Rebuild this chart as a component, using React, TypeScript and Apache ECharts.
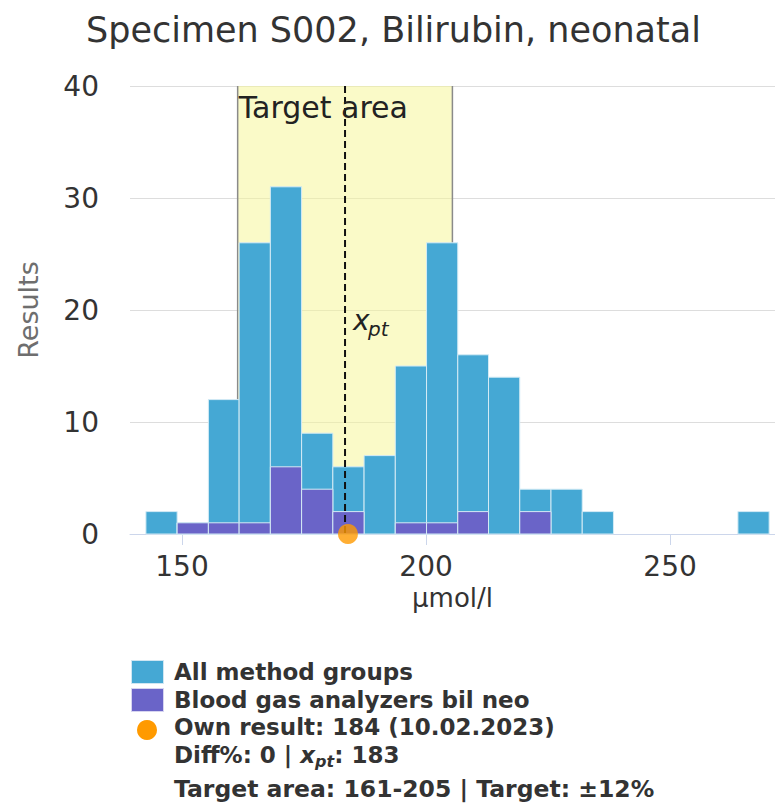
import React, { useEffect, useRef } from "react";
import * as echarts from "echarts";

// ---- data ----
const titleText = "Specimen S002, Bilirubin, neonatal";
const binEdges = [142.6, 149.0, 155.4, 161.7, 168.1, 174.5, 180.9, 187.3, 193.7, 200.1, 206.5, 212.8, 219.2, 225.6, 232.0, 238.4, 244.8, 251.2, 257.5, 263.9, 270.3];
const allMethodCounts = [2, 1, 12, 26, 31, 9, 6, 7, 15, 26, 16, 14, 4, 4, 2, 0, 0, 0, 0, 2];
const bloodGasCounts = [0, 1, 1, 1, 6, 4, 2, 0, 1, 1, 2, 0, 2, 0, 0, 0, 0, 0, 0, 0];
const xTickValues = [150, 200, 250];
const yMax = 40;
const yInterval = 10;
const xpt = 183.4;
const targetLow = 161.4;
const targetHigh = 205.4;
const ownResult = 184;
const ownDate = "10.02.2023";
const diffPct = 0;
const targetPct = 12;
const seriesNames = ["All method groups", "Blood gas analyzers bil neo"];

const FONT = "DejaVu Sans";
const BLUE = "#45a8d4";
const PURPLE = "#6a64c8";
const ORANGE = "#ff9a00";

function barData(counts: number[]) {
  return counts.map((c, i) => [binEdges[i], binEdges[i + 1], c]);
}

function makeBarRender(color: string) {
  return (params: any, api: any) => {
    const lo = api.value(0);
    const hi = api.value(1);
    const v = api.value(2);
    if (!v) return null;
    const p1 = api.coord([lo, v]);
    const p0 = api.coord([hi, 0]);
    return {
      type: "rect",
      shape: { x: p1[0], y: p1[1], width: p0[0] - p1[0], height: p0[1] - p1[1] },
      style: { fill: color, stroke: "#d4ebf5", lineWidth: 1 },
    };
  };
}

export default function App() {
  const ref = useRef<HTMLDivElement>(null);
  useEffect(() => {
    document.body.style.margin = "0";
    const chart = echarts.init(ref.current!, null, { renderer: "svg" });
    const option: any = {
      animation: false,
      backgroundColor: "#ffffff",
      textStyle: { fontFamily: FONT },
      title: {
        text: titleText,
        left: 86,
        top: 12,
        padding: 0,
        textStyle: { fontFamily: FONT, fontSize: 35, fontWeight: "normal", color: "#333333" },
      },
      grid: { left: 130, right: 0, top: 86, bottom: 276 },
      xAxis: {
        type: "value",
        min: 139.34,
        max: 271.5,
        name: "µmol/l",
        nameLocation: "middle",
        nameGap: 48,
        nameTextStyle: { fontFamily: FONT, fontSize: 26, color: "#333333" },
        axisLine: { show: true, lineStyle: { color: "#ccd6eb", width: 1 } },
        axisTick: { show: true, customValues: xTickValues, length: 11, lineStyle: { color: "#ccd6eb" } },
        axisLabel: { customValues: xTickValues, fontSize: 28, color: "#333333", margin: 18, fontFamily: FONT },
        splitLine: { show: false },
      },
      yAxis: {
        type: "value",
        min: 0,
        max: yMax,
        interval: yInterval,
        name: "Results",
        nameLocation: "middle",
        nameGap: 88,
        nameTextStyle: { fontFamily: FONT, fontSize: 27, color: "#6e6e6e" },
        axisLine: { show: false },
        axisTick: { show: false },
        axisLabel: { fontSize: 28, color: "#333333", margin: 31, fontFamily: FONT },
        splitLine: { show: true, lineStyle: { color: "#dddddd", width: 1 } },
      },
      series: [
        {
          type: "custom",
          name: "target",
          z: 1,
          clip: false,
          data: [[targetLow, targetHigh]],
          encode: { x: [0, 1] },
          renderItem: (params: any, api: any) => {
            const lo = api.value(0);
            const hi = api.value(1);
            const a = api.coord([lo, yMax]);
            const b = api.coord([hi, 0]);
            return {
              type: "group",
              children: [
                { type: "rect", shape: { x: a[0], y: a[1], width: b[0] - a[0], height: b[1] - a[1] }, style: { fill: "rgba(246,246,150,0.52)" } },
                { type: "line", shape: { x1: a[0], y1: a[1], x2: a[0], y2: b[1] }, style: { stroke: "#8a8a8a", lineWidth: 1.5 } },
                { type: "line", shape: { x1: b[0], y1: a[1], x2: b[0], y2: b[1] }, style: { stroke: "#8a8a8a", lineWidth: 1.5 } },
              ],
            };
          },
        },
        {
          type: "custom",
          name: seriesNames[0],
          z: 2,
          data: barData(allMethodCounts),
          encode: { x: [0, 1], y: 2 },
          renderItem: makeBarRender(BLUE),
        },
        {
          type: "custom",
          name: seriesNames[1],
          z: 3,
          data: barData(bloodGasCounts),
          encode: { x: [0, 1], y: 2 },
          renderItem: makeBarRender(PURPLE),
        },
        {
          type: "custom",
          name: "labels",
          z: 4,
          clip: false,
          data: [[targetLow, xpt]],
          encode: { x: [0, 1] },
          renderItem: (params: any, api: any) => {
            const lo = api.value(0);
            const xp = api.value(1);
            const top = api.coord([lo, yMax]);
            const xt = api.coord([xp, yMax]);
            const xb = api.coord([xp, 0]);
            const mid = api.coord([xp, 19.1]);
            return {
              type: "group",
              children: [
                { type: "line", shape: { x1: xt[0], y1: xt[1], x2: xb[0], y2: xb[1] }, style: { stroke: "#111111", lineWidth: 2, lineDash: [7, 4] } },
                { type: "text", x: top[0] + 1, y: top[1] + 21, style: { text: "Target area", fontFamily: FONT, fontSize: 30, fill: "#222222", verticalAlign: "middle", align: "left" } },
                { type: "text", x: mid[0] + 8, y: mid[1], style: { text: "x", fontFamily: FONT, fontSize: 28, fontStyle: "italic", fill: "#222222", verticalAlign: "middle", align: "left" } },
                { type: "text", x: mid[0] + 23, y: mid[1] + 9, style: { text: "pt", fontFamily: FONT, fontSize: 20, fontStyle: "italic", fill: "#222222", verticalAlign: "middle", align: "left" } },
              ],
            };
          },
        },
        {
          type: "scatter",
          name: "Own result",
          z: 10,
          clip: false,
          symbol: "circle",
          symbolSize: 20,
          itemStyle: { color: ORANGE },
          data: [[ownResult, 0]],
        },
      ],
      graphic: [
        { type: "rect", left: 131, top: 660, shape: { width: 32, height: 23 }, style: { fill: BLUE, stroke: "#cfe6f2", lineWidth: 1 } },
        { type: "rect", left: 131, top: 688, shape: { width: 32, height: 23 }, style: { fill: PURPLE, stroke: "#d6d4f0", lineWidth: 1 } },
        { type: "circle", shape: { cx: 147, cy: 730, r: 10 }, style: { fill: ORANGE } },
        { type: "text", x: 174, y: 672, style: { text: seriesNames[0], fontFamily: FONT, fontSize: 23, fontWeight: "bold", fill: "#333333", verticalAlign: "middle" } },
        { type: "text", x: 174, y: 700, style: { text: seriesNames[1], fontFamily: FONT, fontSize: 23, fontWeight: "bold", fill: "#333333", verticalAlign: "middle" } },
        { type: "text", x: 174, y: 727, style: { text: `Own result: ${ownResult} (${ownDate})`, fontFamily: FONT, fontSize: 23, fontWeight: "bold", fill: "#333333", verticalAlign: "middle" } },
        {
          type: "text",
          x: 174,
          y: 755,
          style: {
            text: `{b|Diff%: ${diffPct} | }{i|x}{s|pt}{b|: ${Math.round(xpt)}}`,
            verticalAlign: "middle",
            rich: {
              b: { fontFamily: FONT, fontSize: 23, fontWeight: "bold", fill: "#333333", lineHeight: 28, verticalAlign: "middle" },
              i: { fontFamily: FONT, fontSize: 23, fontWeight: "bold", fontStyle: "italic", fill: "#333333", lineHeight: 28, verticalAlign: "middle" },
              s: { fontFamily: FONT, fontSize: 16, fontWeight: "bold", fontStyle: "italic", fill: "#333333", lineHeight: 16, verticalAlign: "bottom" },
            },
          },
        },
        { type: "text", x: 174, y: 789, style: { text: `Target area: ${Math.round(targetLow)}-${Math.round(targetHigh)} | Target: ±${targetPct}%`, fontFamily: FONT, fontSize: 23.5, fontWeight: "bold", fill: "#333333", verticalAlign: "middle" } },
      ],
    };
    chart.setOption(option);
    return () => chart.dispose();
  }, []);
  return <div ref={ref} style={{ width: 775, height: 810 }} />;
}
